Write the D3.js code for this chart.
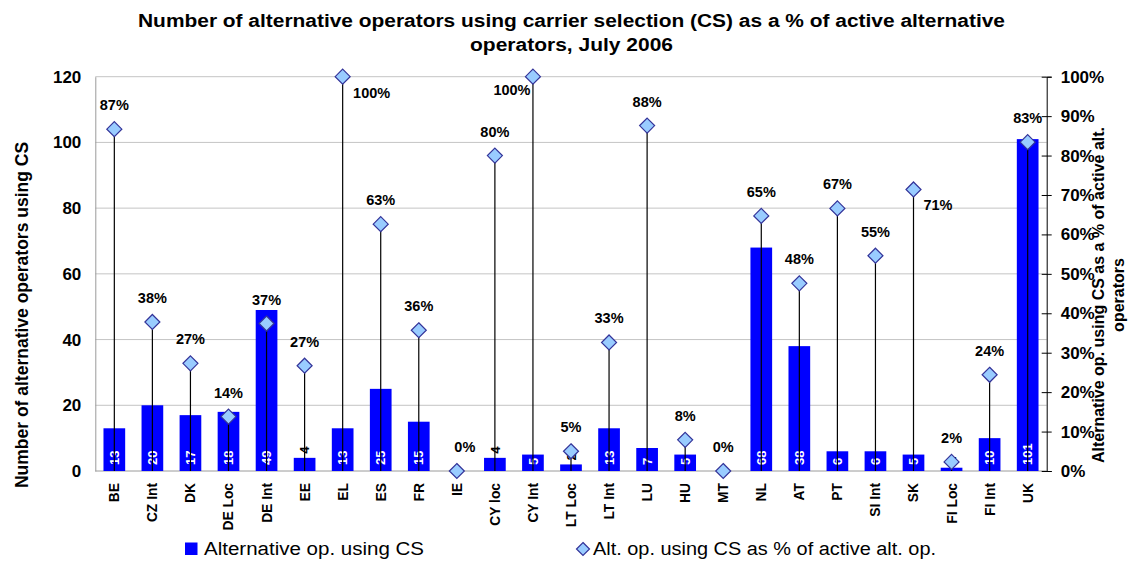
<!DOCTYPE html>
<html>
<head>
<meta charset="utf-8">
<script src="https://cdn.jsdelivr.net/npm/d3@7"></script>
<style>
  html, body { margin: 0; padding: 0; background: #fff; }
  svg { display: block; font-family: "Liberation Sans", Arial, sans-serif; }
</style>
</head>
<body>
<svg id="chart" width="1128" height="563"></svg>
<script>
// ---- data ----
const titleLines = [
  "Number of alternative operators using carrier selection (CS) as a % of active alternative",
  "operators, July 2006"
];
const categories = ["BE","CZ Int","DK","DE Loc","DE Int","EE","EL","ES","FR","IE","CY loc","CY Int","LT Loc","LT Int","LU","HU","MT","NL","AT","PT","SI Int","SK","FI Loc","FI Int","UK"];
const operatorsUsingCS = [13,20,17,18,49,4,13,25,15,0,4,5,2,13,7,5,0,68,38,6,6,5,1,10,101];
const pctOfActive = [86.7,37.8,27.3,13.8,37.4,26.7,100,62.6,35.7,0,80,100,5,32.6,87.6,7.9,0,64.7,47.6,66.6,54.6,71.4,2.3,24.4,83.4];
const leftTicks = [0,20,40,60,80,100,120];
const rightTicks = [0,0.1,0.2,0.3,0.4,0.5,0.6,0.7,0.8,0.9,1.0];
const leftAxisTitle = "Number of alternative operators using CS";
const rightAxisTitle = ["Alternative op. using CS as a % of active alt.", "operators"];
const legendLabels = ["Alternative op. using CS", "Alt. op. using CS as % of active alt. op."];

// ---- layout ----
const svg = d3.select("#chart");
const plot = {left: 95.3, right: 1046.7, top: 76.7, bottom: 471};
const barColor = "#0000ff";
const diamondFill = "#99ccff";
const diamondStroke = "#333399";
const FONT = "Liberation Sans, Arial, sans-serif";

const x = d3.scaleBand().domain(categories).range([plot.left, plot.right])
  .paddingInner(0.43).paddingOuter(0.215);
const y = d3.scaleLinear().domain([0, 120]).range([plot.bottom, plot.top]);
const y2 = d3.scaleLinear().domain([0, 1]).range([plot.bottom, plot.top]);
const cx = c => x(c) + x.bandwidth() / 2;

svg.append("rect").attr("width", 1128).attr("height", 563).attr("fill", "#fff");

// title
svg.append("g").selectAll("text").data(titleLines).join("text")
  .attr("x", 571.5).attr("y", (d, i) => 26.7 + i * 24.5)
  .attr("text-anchor", "middle")
  .attr("font-size", 17.5).attr("font-weight", "bold").attr("fill", "#000")
  .attr("textLength", (d, i) => i === 0 ? 867 : 203)
  .attr("lengthAdjust", "spacingAndGlyphs")
  .text(d => d);

// gridlines
svg.append("g").selectAll("line").data(leftTicks.filter(t => t > 0)).join("line")
  .attr("x1", plot.left).attr("x2", plot.right)
  .attr("y1", d => y(d)).attr("y2", d => y(d))
  .attr("stroke", "#c4c4c4").attr("stroke-width", 1);

// left axis
const leftAxis = d3.axisLeft(y).tickValues(leftTicks).tickSize(0).tickPadding(14);
const gL = svg.append("g").attr("transform", `translate(${plot.left},0)`).call(leftAxis);
gL.select(".domain").attr("stroke", "#9a9a9a");
gL.selectAll("text").attr("font-size", 17).attr("font-weight", "bold")
  .attr("font-family", FONT).attr("fill", "#000");

// bottom axis line
svg.append("line").attr("x1", plot.left).attr("x2", plot.right)
  .attr("y1", plot.bottom).attr("y2", plot.bottom).attr("stroke", "#9a9a9a");

// right axis
const rightAxis = d3.axisRight(y2).tickValues(rightTicks).tickSize(5).tickPadding(9)
  .tickFormat(d3.format(".0%"));
const gR = svg.append("g").attr("transform", `translate(${plot.right},0)`).call(rightAxis);
gR.select(".domain").attr("stroke", "#000");
gR.selectAll(".tick line").attr("x1", -5).attr("x2", 5).attr("stroke", "#000");
gR.selectAll("text").attr("font-size", 17).attr("font-weight", "bold")
  .attr("font-family", FONT).attr("fill", "#000");

// bars
const rows = categories.map((c, i) => ({c, v: operatorsUsingCS[i], p: pctOfActive[i] / 100}));
const barW = x.bandwidth();
svg.append("g").selectAll("rect").data(rows.filter(d => d.v > 0)).join("rect")
  .attr("x", d => x(d.c)).attr("width", barW)
  .attr("y", d => y(d.v)).attr("height", d => plot.bottom - y(d.v))
  .attr("fill", barColor);

// bar value labels
svg.append("g").selectAll("text").data(rows.filter(d => d.v > 0)).join("text")
  .attr("transform", d => {
    const inside = d.v >= 5;
    const yy = inside ? plot.bottom - 6 : y(d.v) - 4;
    return `translate(${cx(d.c)},${yy}) rotate(-90)`;
  })
  .attr("dy", "0.36em")
  .attr("text-anchor", "start")
  .attr("font-size", 13).attr("font-weight", "bold").attr("font-family", FONT)
  .attr("fill", d => d.v >= 5 ? "#fff" : "#000")
  .text(d => d.v);

// drop lines
svg.append("g").selectAll("line").data(rows.filter(d => d.p > 0)).join("line")
  .attr("x1", d => cx(d.c)).attr("x2", d => cx(d.c))
  .attr("y1", d => y2(d.p)).attr("y2", plot.bottom)
  .attr("stroke", "#000").attr("stroke-width", 1.2);

// diamonds
const diamond = (r) => `M0,${-r}L${r},0L0,${r}L${-r},0Z`;
svg.append("g").selectAll("path").data(rows).join("path")
  .attr("transform", d => `translate(${cx(d.c)},${y2(d.p)})`)
  .attr("d", diamond(7.5))
  .attr("fill", diamondFill).attr("stroke", diamondStroke).attr("stroke-width", 1.2);

// percent labels
const labelOffset = {
  "EL": [29, 21], "CY Int": [-21, 18], "SK": [24.5, 21], "IE": [8, -19]
};
svg.append("g").selectAll("text").data(rows).join("text")
  .attr("x", d => cx(d.c) + (labelOffset[d.c] ? labelOffset[d.c][0] : 0))
  .attr("y", d => y2(d.p) + (labelOffset[d.c] ? labelOffset[d.c][1] : -19))
  .attr("text-anchor", "middle")
  .attr("font-size", 14.5).attr("font-weight", "bold").attr("fill", "#000")
  .text(d => Math.round(d.p * 100) + "%");

// x category labels
svg.append("g").selectAll("text").data(categories).join("text")
  .attr("transform", d => `translate(${cx(d)},483) rotate(-90)`)
  .attr("dy", "0.36em")
  .attr("text-anchor", "end")
  .attr("font-size", 13.8).attr("font-weight", "bold").attr("font-family", FONT).attr("fill", "#000")
  .text(d => d);

// left axis title
svg.append("text")
  .attr("transform", "translate(22,315) rotate(-90)")
  .attr("dy", "0.36em").attr("text-anchor", "middle")
  .attr("font-size", 17.5).attr("font-weight", "bold").attr("fill", "#000")
  .text(leftAxisTitle);

// right axis title
svg.append("g").selectAll("text").data(rightAxisTitle).join("text")
  .attr("transform", (d, i) => `translate(${i === 0 ? 1098 : 1118},295) rotate(-90)`)
  .attr("dy", "0.36em").attr("text-anchor", "middle")
  .attr("font-size", 16).attr("font-weight", "bold").attr("fill", "#000")
  .text(d => d);

// legend
const lg = svg.append("g");
lg.append("rect").attr("x", 185).attr("y", 542.5).attr("width", 12.5).attr("height", 12.5)
  .attr("fill", barColor);
lg.append("text").attr("x", 204).attr("y", 555).attr("font-size", 18).attr("fill", "#000")
  .attr("textLength", 220).attr("lengthAdjust", "spacingAndGlyphs")
  .text(legendLabels[0]);
lg.append("path").attr("transform", "translate(583,549)").attr("d", diamond(6.5))
  .attr("fill", diamondFill).attr("stroke", diamondStroke).attr("stroke-width", 1.2);
lg.append("text").attr("x", 593).attr("y", 555).attr("font-size", 18).attr("fill", "#000")
  .attr("textLength", 343).attr("lengthAdjust", "spacingAndGlyphs")
  .text(legendLabels[1]);
</script>
</body>
</html>
